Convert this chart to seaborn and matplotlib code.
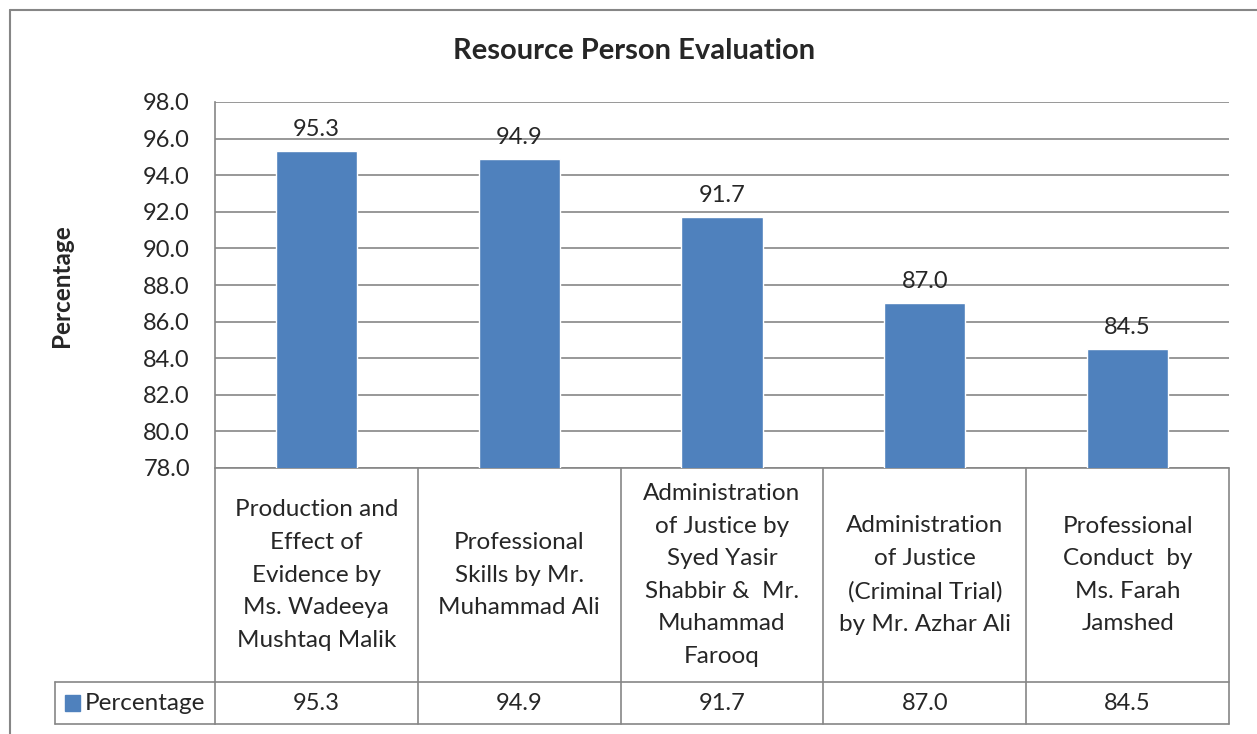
import matplotlib
matplotlib.use('Agg')
import matplotlib.pyplot as plt
import matplotlib.transforms as mtransforms
from matplotlib.patches import Rectangle
import pandas as pd
import seaborn as sns

# data
categories = [
    "Production and\nEffect of\nEvidence by\nMs. Wadeeya\nMushtaq Malik",
    "Professional\nSkills by Mr.\nMuhammad Ali",
    "Administration\nof Justice by\nSyed Yasir\nShabbir &  Mr.\nMuhammad\nFarooq",
    "Administration\nof Justice\n(Criminal Trial)\nby Mr. Azhar Ali",
    "Professional\nConduct  by\nMs. Farah\nJamshed",
]
values = [95.3, 94.9, 91.7, 87.0, 84.5]
series_name = "Percentage"
y_ticks = [78, 80, 82, 84, 86, 88, 90, 92, 94, 96, 98]
title = "Resource Person Evaluation"

BAR = "#4F81BD"
GRID = "#868686"
FS = 17.5


def main():
    sns.set_style("white")
    plt.rcParams['font.family'] = ['Lato', 'DejaVu Sans']

    df = pd.DataFrame({"cat": categories, "val": values})

    W, H = 1257, 734
    fig = plt.figure(figsize=(W / 100, H / 100), dpi=100)
    ax = fig.add_axes([215 / W, 1 - 468 / H, (1229 - 215) / W, (468 - 102) / H])

    sns.barplot(data=df, x="cat", y="val", color=BAR, width=0.4,
                saturation=1, ax=ax, zorder=3)
    ax.set_ylim(y_ticks[0], y_ticks[-1])
    ax.set_xlim(-0.5, len(values) - 0.5)
    ax.set_yticks(y_ticks)
    ax.set_yticklabels([f"{t:.1f}" for t in y_ticks], fontsize=17)
    ax.tick_params(axis='y', length=0, pad=18)
    ax.set_xticks([])
    ax.set_xlabel("")
    ax.set_ylabel("")
    ax.yaxis.grid(True, color=GRID, lw=1.2, zorder=0)
    ax.set_axisbelow(True)
    for s in ["top", "right", "bottom"]:
        ax.spines[s].set_visible(False)
    ax.spines["left"].set_color(GRID)
    ax.spines["left"].set_linewidth(1.2)

    for c in ax.containers:
        ax.bar_label(c, labels=[f"{v:.1f}" for v in values], padding=8, fontsize=17)

    # data table under the plot
    tr = mtransforms.blended_transform_factory(ax.transData, ax.transAxes)
    trf = mtransforms.blended_transform_factory(fig.transFigure, ax.transAxes)
    ah = 468 - 102
    r1 = -(682 - 468) / ah
    r2 = -(724 - 468) / ah
    n = len(values)
    kw = dict(color=GRID, lw=1.2, clip_on=False)
    ax.plot([-0.5, n - 0.5], [0, 0], transform=tr, **kw)
    ax.plot([-0.5, n - 0.5], [r1, r1], transform=tr, **kw)
    ax.plot([-0.5, n - 0.5], [r2, r2], transform=tr, **kw)
    for i in range(n + 1):
        ax.plot([i - 0.5, i - 0.5], [0, r2], transform=tr, **kw)
    ax.plot([55 / W, 215 / W], [r1, r1], transform=trf, **kw)
    ax.plot([55 / W, 215 / W], [r2, r2], transform=trf, **kw)
    ax.plot([55 / W, 55 / W], [r1, r2], transform=trf, **kw)

    for i, (cat, v) in enumerate(zip(categories, values)):
        ax.text(i, r1 / 2, cat, transform=tr, ha="center", va="center",
                fontsize=FS, linespacing=1.68)
        ax.text(i, (r1 + r2) / 2, f"{v:.1f}", transform=tr, ha="center",
                va="center", fontsize=17)

    ax.add_patch(Rectangle((65 / W, (r1 + r2) / 2 - 0.021), 15 / W, 0.042,
                           transform=trf, color=BAR, clip_on=False))
    ax.text(85 / W, (r1 + r2) / 2, series_name, transform=trf, ha="left",
            va="center", fontsize=FS)

    # outer chart border
    fig.add_artist(plt.Line2D([10 / W, 10 / W], [0, 1 - 10 / H],
                              transform=fig.transFigure, color=GRID, lw=1.5))
    fig.add_artist(plt.Line2D([10 / W, 1], [1 - 10 / H, 1 - 10 / H],
                              transform=fig.transFigure, color=GRID, lw=1.5))

    fig.text(634 / W, 1 - 51 / H, title, ha="center", va="center",
             fontsize=21, fontweight="bold")
    fig.text(62 / W, 1 - 286 / H, series_name, ha="center", va="center",
             rotation=90, fontsize=17.5, fontweight="bold")

    fig.savefig("out.png", dpi=100)
    plt.close(fig)


if __name__ == '__main__':
    main()
